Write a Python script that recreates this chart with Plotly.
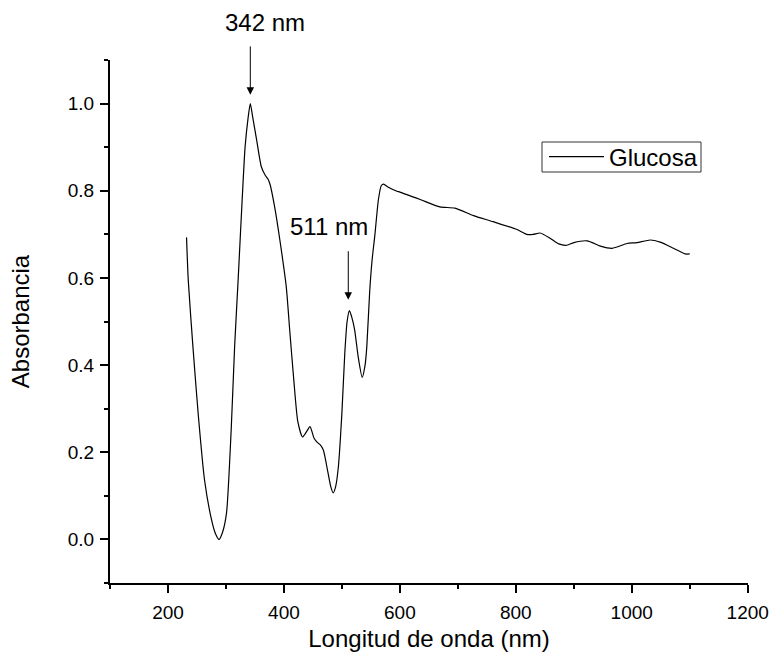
import plotly.graph_objects as go

wavelength = [232, 235, 243, 252, 263, 275, 282, 288, 294, 301, 309, 315, 321, 328, 333, 338, 342, 346,
              353, 361, 368, 372, 376, 384, 393, 404, 410, 417, 424, 432, 438, 445, 452, 458, 462, 468,
              476, 481, 485, 489, 494, 500, 505, 509, 513, 517, 522, 528, 535, 540, 543, 548, 552, 557,
              563, 568, 572, 580, 595, 600, 635, 669, 695, 727, 761, 802, 819, 830, 842, 859, 874, 888,
              900, 923, 946, 966, 992, 1009, 1032, 1049, 1072, 1092, 1100]
absorbance = [0.693, 0.595, 0.443, 0.290, 0.137, 0.046, 0.013, 0.000, 0.016, 0.061, 0.250, 0.443, 0.595,
              0.780, 0.900, 0.965, 1.000, 0.970, 0.916, 0.855, 0.835, 0.828, 0.815, 0.763, 0.687, 0.580,
              0.480, 0.366, 0.270, 0.235, 0.245, 0.259, 0.232, 0.222, 0.218, 0.205, 0.153, 0.120, 0.107,
              0.120, 0.168, 0.290, 0.427, 0.500, 0.525, 0.510, 0.481, 0.420, 0.372, 0.400, 0.443, 0.570,
              0.640, 0.700, 0.780, 0.812, 0.815, 0.808, 0.799, 0.797, 0.780, 0.763, 0.760, 0.743, 0.729,
              0.711, 0.700, 0.700, 0.703, 0.691, 0.678, 0.675, 0.681, 0.685, 0.673, 0.668, 0.679, 0.681,
              0.687, 0.682, 0.668, 0.655, 0.655]

series_name = "Glucosa"
peak_labels = ["342 nm", "511 nm"]
peak_positions = [342, 511]
x_tick_values = [200, 400, 600, 800, 1000, 1200]
y_tick_values = [0.0, 0.2, 0.4, 0.6, 0.8, 1.0]

FONT = "Liberation Sans, Arial, sans-serif"

fig = go.Figure()
fig.add_trace(go.Scatter(
    x=wavelength, y=absorbance, mode="lines", name=series_name,
    line=dict(color="black", width=1.2, shape="spline", smoothing=0.6),
))

# arrows
fig.add_annotation(x=peak_positions[0], y=1.02, xref="x", yref="y", text="", showarrow=True,
                   ax=0, ay=-50, arrowhead=2, arrowsize=1.5, arrowwidth=1, arrowcolor="black")
fig.add_annotation(x=peak_positions[1], y=0.55, xref="x", yref="y", text="", showarrow=True,
                   ax=0, ay=-50, arrowhead=2, arrowsize=1.5, arrowwidth=1, arrowcolor="black")
# labels
fig.add_annotation(x=367, y=1.0726, xref="x", yref="paper", yanchor="middle", text=peak_labels[0],
                   showarrow=False, font=dict(family=FONT, size=24, color="black"))
fig.add_annotation(x=478, y=0.719, xref="x", yref="y", text=peak_labels[1], showarrow=False,
                   font=dict(family=FONT, size=24, color="black"))

# legend frame
fig.add_shape(type="rect", xref="paper", yref="paper",
              x0=(542 - 110) / 638, x1=(701 - 110) / 638,
              y0=(583 - 172) / 523, y1=(583 - 142) / 523,
              line=dict(color="#333333", width=1), fillcolor="rgba(0,0,0,0)")

fig.update_layout(
    width=776, height=661,
    margin=dict(l=110, r=28, t=60, b=78, autoexpand=False),
    paper_bgcolor="white", plot_bgcolor="white",
    font=dict(family=FONT, color="black"),
    showlegend=True,
    legend=dict(x=(544 - 110) / 638, y=(583 - 157) / 523, xanchor="left", yanchor="middle",
                borderwidth=0, bgcolor="rgba(0,0,0,0)",
                font=dict(family=FONT, size=24, color="black"),
                itemwidth=55),
)
fig.update_xaxes(
    range=[100, 1200.5], showgrid=False, zeroline=False,
    showline=True, linecolor="black", linewidth=2,
    tickmode="array", tickvals=x_tick_values,
    ticks="outside", ticklen=8, tickwidth=2, tickcolor="black",
    tickfont=dict(family=FONT, size=19, color="black"), ticklabelstandoff=3,
    minor=dict(dtick=100, tick0=0, ticks="outside", ticklen=4, tickwidth=2, tickcolor="black"),
    title=dict(text="Longitud de onda (nm)", font=dict(family=FONT, size=24, color="black"), standoff=8),
)
fig.update_yaxes(
    range=[-0.1, 1.1], showgrid=False, zeroline=False,
    showline=True, linecolor="black", linewidth=2,
    tickmode="array", tickvals=y_tick_values, tickformat=".1f",
    ticks="outside", ticklen=8, tickwidth=2, tickcolor="black",
    tickfont=dict(family=FONT, size=19, color="black"), ticklabelstandoff=2,
    minor=dict(dtick=0.1, tick0=0, ticks="outside", ticklen=4, tickwidth=2, tickcolor="black"),
    title=dict(text="Absorbancia", font=dict(family=FONT, size=24, color="black"), standoff=31),
)

fig.write_html("out.html", config={"displayModeBar": False},
               post_script="document.body.style.margin='0';")
